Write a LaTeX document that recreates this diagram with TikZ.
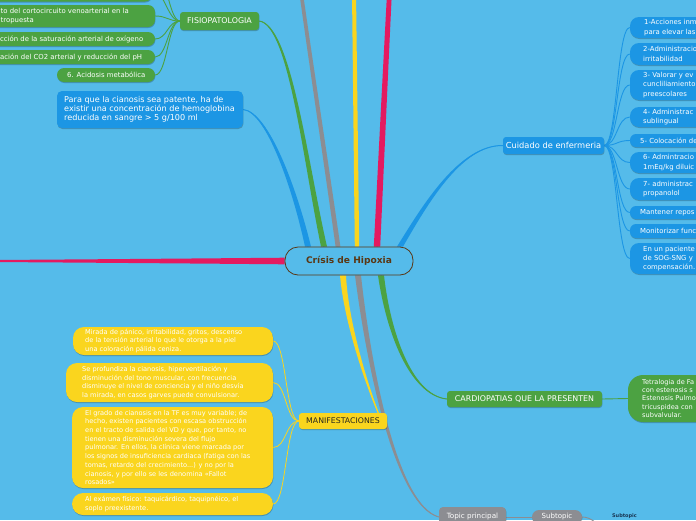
\documentclass[tikz,border=0pt]{standalone}
\usepackage{fontspec}
\setmainfont{DejaVu Sans}
\usetikzlibrary{calc,shadows}
\definecolor{bg}{RGB}{85,187,234}
\definecolor{nblue}{RGB}{28,150,228}
\definecolor{ngreen}{RGB}{76,162,66}
\definecolor{nyellow}{RGB}{250,213,30}
\definecolor{npink}{RGB}{228,26,96}
\definecolor{ngray}{RGB}{140,141,146}
\definecolor{nbrown}{RGB}{90,55,20}
\definecolor{dtext}{RGB}{40,40,30}
\definecolor{navy}{RGB}{25,55,85}
\newcommand\fz[2]{\fontsize{#1}{#2}\selectfont}
\pgfdeclarelayer{bgl}
\pgfsetlayers{bgl,main}
% box with left-aligned text
\newcommand\bx[8]{%
 \pgfmathsetmacro\bxw{#4-(#2)}%
 \pgfmathsetmacro\bxh{#5-(#3)}%
 \pgfmathsetmacro\bxcx{(#2+#4)/2}%
 \pgfmathsetmacro\bxcy{(#3+#5)/2}%
 \pgfmathsetmacro\bxtx{#2+#7}%
 \node[#6, minimum width=\bxw pt, minimum height=\bxh pt, inner sep=0pt] (#1) at (\bxcx,\bxcy) {};%
 \node[#6t, anchor=west, inner sep=0pt, align=left] (#1t) at (\bxtx,\bxcy) {#8};}
% box with centred text
\newcommand\cbx[7]{%
 \pgfmathsetmacro\bxw{#4-(#2)}%
 \pgfmathsetmacro\bxh{#5-(#3)}%
 \pgfmathsetmacro\bxcx{(#2+#4)/2}%
 \pgfmathsetmacro\bxcy{(#3+#5)/2}%
 \node[#6, minimum width=\bxw pt, minimum height=\bxh pt, inner sep=0pt] (#1) at (\bxcx,\bxcy) {};%
 \node[#6t, inner sep=0pt, align=center] (#1t) at (\bxcx,\bxcy) {#7};}
% tapered branch, horizontal offsets
\newcommand\taperv[7]{%
 \pgfmathsetmacro\ta{#5}\pgfmathsetmacro\tb{(2*#5+#6)/3}%
 \pgfmathsetmacro\tc{(#5+2*#6)/3}\pgfmathsetmacro\td{#6}%
 \fill[#7] ($#1+(-\ta,0)$) .. controls ($#2+(-\tb,0)$) and ($#3+(-\tc,0)$) .. ($#4+(-\td,0)$)
   -- ($#4+(\td,0)$) .. controls ($#3+(\tc,0)$) and ($#2+(\tb,0)$) .. ($#1+(\ta,0)$) -- cycle;
 \draw[#7, line width=1pt] #1 .. controls #2 and #3 .. #4;}
% tapered branch, vertical offsets
\newcommand\taperh[7]{%
 \pgfmathsetmacro\ta{#5}\pgfmathsetmacro\tb{(2*#5+#6)/3}%
 \pgfmathsetmacro\tc{(#5+2*#6)/3}\pgfmathsetmacro\td{#6}%
 \fill[#7] ($#1+(0,-\ta)$) .. controls ($#2+(0,-\tb)$) and ($#3+(0,-\tc)$) .. ($#4+(0,-\td)$)
   -- ($#4+(0,\td)$) .. controls ($#3+(0,\tc)$) and ($#2+(0,\tb)$) .. ($#1+(0,\ta)$) -- cycle;}
\begin{document}
\begin{tikzpicture}[x=1pt,y=-1pt,
 nshadow/.style={drop shadow={shadow xshift=0.4pt,shadow yshift=-1pt,opacity=0.22,fill=black}},
 gbox/.style={fill=ngreen, rounded corners=7pt, nshadow},
 gboxt/.style={text=white, font=\fz{6.9}{9}},
 hgreen/.style={fill=ngreen, rounded corners=3pt, nshadow},
 hgreent/.style={text=white, font=\fz{7.9}{9}},
 bnote/.style={fill=nblue, rounded corners=5pt, nshadow},
 bnotet/.style={text=white, font=\fz{8.1}{9}},
 rbox/.style={fill=nblue, rounded corners=9pt, nshadow},
 rboxt/.style={text=white, font=\fz{6.9}{9.2}},
 rboxs/.style={fill=nblue, rounded corners=6pt, nshadow},
 rboxst/.style={text=white, font=\fz{6.9}{9.2}},
 hblue/.style={fill=nblue, rounded corners=3pt, nshadow},
 hbluet/.style={text=white, font=\fz{8.3}{10}},
 ybox/.style={fill=nyellow, rounded corners=11pt, nshadow},
 yboxt/.style={text=white, font=\fz{6.6}{8.7}},
 hyellow/.style={fill=nyellow, rounded corners=3pt, nshadow},
 hyellowt/.style={text=dtext, font=\fz{7.8}{9}},
 tbox/.style={fill=ngreen, rounded corners=15pt, nshadow},
 tboxt/.style={text=white, font=\fz{6.6}{8.3}},
 tpbox/.style={fill=ngray, rounded corners=4pt, nshadow},
 tpboxt/.style={text=white, font=\fz{7.2}{9}},
 stbox/.style={fill=ngray, rounded corners=7pt, nshadow},
 stboxt/.style={text=white, font=\fz{7}{9}},
 cnode/.style={fill=bg, draw=nbrown, line width=0.8pt, rounded corners=13pt},
 cnodet/.style={text=nbrown, font=\fz{9.1}{11}\bfseries},
 thinG/.style={draw=ngreen, line width=0.9pt},
 thinB/.style={draw=nblue, line width=0.9pt},
 thinY/.style={draw=nyellow, line width=0.8pt},
 thinGr/.style={draw=ngray, line width=0.9pt}]
\useasboundingbox (0,0) rectangle (696,520);

% ---------- central topic ----------
\cbx{c}{285}{247}{413}{275}{cnode}{Crísis de Hipoxia}

% ---------- FISIOPATOLOGIA ----------
\cbx{fisio}{180}{12}{259}{30}{hgreen}{FISIOPATOLOGIA}
\bx{g0}{-20}{-22}{152}{1.5}{gbox}{0}{}
\bx{g1}{-20}{5}{155}{27}{gbox}{20.5}{to del cortocircuito venoarterial en la\\tropuesta}
\bx{g2}{-20}{32}{155}{46}{gbox}{20}{cción de la saturación arterial de oxígeno}
\bx{g3}{-20}{50}{155}{64}{gbox}{20}{ación del CO2 arterial y reducción del pH}
\bx{g4}{57}{68}{155}{82}{gbox}{10}{6. Acidosis metabólica}
\coordinate (gU) at (150,-45);

% ---------- note ----------
\bx{note}{57}{91}{243}{128}{bnote}{7}{Para que la cianosis sea patente, ha de\\existir una concentración de hemoglobina\\reducida en sangre > 5 g/100 ml}

% ---------- Cuidado de enfermeria ----------
\cbx{cuid}{503}{137}{604}{154}{hblue}{Cuidado de enfermeria}
\bx{r1}{630}{17}{760}{38}{rbox}{14}{1-Acciones inm\\para elevar las}
\bx{r2}{630}{43}{760}{65}{rbox}{13}{2-Administracio\\irritabilidad}
\bx{r3}{630}{70}{760}{100}{rbox}{13}{3- Valorar y ev\\cuncliliamiento\\preescolares}
\bx{r4}{630}{107}{760}{127}{rbox}{13}{4- Administrac\\sublingual}
\bx{r5}{630}{134}{760}{147}{rboxs}{10}{5- Colocación de}
\bx{r6}{630}{152}{760}{173}{rbox}{13}{6- Admintracio\\1mEq/kg diluic}
\bx{r7}{630}{178}{760}{200}{rbox}{13}{7- administrac\\propanolol}
\bx{r8}{630}{206}{760}{219}{rboxs}{10}{Mantener repos}
\bx{r9}{630}{224}{760}{238}{rboxs}{10}{Monitorizar func}
\bx{r10}{630}{243}{760}{274}{rbox}{13}{En un paciente\\de SOG-SNG y\\compensación.}

% ---------- MANIFESTACIONES ----------
\cbx{man}{299}{413}{387}{429}{hyellow}{MANIFESTACIONES}
\bx{yA}{73}{327}{273}{355}{ybox}{12}{Mirada de pánico, irritabilidad, gritos, descenso\\de la tensión arterial lo que le otorga a la piel\\una coloración pálida ceniza.}
\bx{yB}{66}{363}{273}{402}{ybox}{16}{Se profundiza la cianosis, hiperventilación y\\disminución del tono muscular, con frecuencia\\disminuye el nivel de conciencia y el niño desvía\\la mirada, en casos garves puede convulsionar.}
\bx{yC}{72}{407}{273}{488}{ybox}{13}{El grado de cianosis en la TF es muy variable; de\\hecho, existen pacientes con escasa obstrucción\\en el tracto de salida del VD y que, por tanto, no\\tienen una disminución severa del flujo\\pulmonar. En ellos, la clínica viene marcada por\\los signos de insuficiencia cardiaca (fatiga con las\\tomas, retardo del crecimiento...) y no por la\\cianosis, y por ello se les denomina «Fallot\\rosados»}
\bx{yD}{72}{493}{273}{515}{ybox}{13}{Al exámen físico: taquicárdico, taquipnéico, el\\soplo preexistente.}

% ---------- CARDIOPATIAS ----------
\cbx{card}{447}{391}{602}{407}{hgreen}{CARDIOPATIAS QUE LA PRESENTEN}
\bx{tetra}{628}{375}{760}{422}{tbox}{14}{Tetralogia de Fa\\con estenosis s\\Estenosis Pulmo\\tricuspidea con\\subvalvular.}

% ---------- Topic principal ----------
\cbx{tp}{439}{507}{506}{527}{tpbox}{Topic principal}
\cbx{st}{532}{510}{582}{524}{stbox}{Subtopic}
\node[text=navy, font=\fz{5}{6}\bfseries, inner sep=0pt] (st2) at (624.5,516) {Subtopic};
\coordinate (eST) at (603,534);

% ---------- branch end points ----------
\coordinate (sPU) at ($(c.north)+(28,0)$);
\coordinate (sYU) at ($(c.north)+(8,0)$);
\coordinate (sGrU) at ($(c.north)+(-11,0)$);
\coordinate (sGU) at ($(c.north)+(-25,0)$);
\coordinate (sBU) at ($(c.north)+(-41,0)$);
\coordinate (sBR) at ($(c.north)+(51,0)$);
\coordinate (sYD) at ($(c.south)+(-6,0)$);
\coordinate (sGrD) at ($(c.south)+(9,0)$);
\coordinate (sGD) at ($(c.south)+(32,0)$);
\coordinate (eYD) at ($(man.north east)+(-9,0)$);
\coordinate (ePL) at (-30,261);
\coordinate (ePU) at (389.5,-8);
\coordinate (eYU) at (354,-8);
\coordinate (eGrU) at (301,-8);

\begin{pgfonlayer}{bgl}
\fill[bg] (0,0) rectangle (696,520);
% main branches
\taperh{(c.west)}{(190,261)}{(95,261)}{(ePL)}{3.3}{0.85}{npink}
\taperv{(sPU)}{(381,165)}{(385,80)}{(ePU)}{3.2}{2.4}{npink}
\taperv{(sYU)}{(356,162)}{(355,77)}{(eYU)}{2.2}{2.0}{nyellow}
\taperv{(sGrU)}{(326,162)}{(313,77)}{(eGrU)}{2.4}{1.8}{ngray}
\taperv{(sGU)}{(305,160)}{(290,25)}{(fisio.east)}{3}{0.4}{ngreen}
\taperv{(sBU)}{(295,190)}{(268,112)}{(note.east)}{3}{0.4}{nblue}
\taperv{(sBR)}{(425,205)}{(460,145)}{(cuid.west)}{3}{0.4}{nblue}
\taperv{(sYD)}{(346,320)}{(365,380)}{(eYD)}{3}{0.5}{nyellow}
\taperv{(sGrD)}{(368,360)}{(395,505)}{(tp.west)}{3}{0.4}{ngray}
\taperv{(sGD)}{(388,330)}{(410,395)}{(card.west)}{3}{0.4}{ngreen}
% child connectors
\foreach \n in {g0,g1,g2,g3,g4}
  \draw[thinG] (fisio.west) .. controls +(-12,0) and ($(\n.east)+(12,0)$) .. (\n.east);
\draw[thinG] (fisio.west) .. controls +(-12,0) and ($(gU)+(14,0)$) .. (gU);
\foreach \n in {r1,r2,r3,r4,r5,r6,r7,r8,r9,r10}
  \draw[thinB] (cuid.east) .. controls +(13,0) and ($(\n.west)+(-13,0)$) .. (\n.west);
\foreach \n in {yA,yB,yC,yD}
  \draw[thinY] (man.west) .. controls +(-13,0) and ($(\n.east)+(13,0)$) .. (\n.east);
\draw[thinG] (card.east) -- (tetra.west);
\draw[thinGr] (tp.east) -- (st.west);
\draw[thinGr] (st.east) .. controls +(9,0) and ($(eST)+(-4,-10)$) .. (eST);
\end{pgfonlayer}
\end{tikzpicture}
\end{document}
